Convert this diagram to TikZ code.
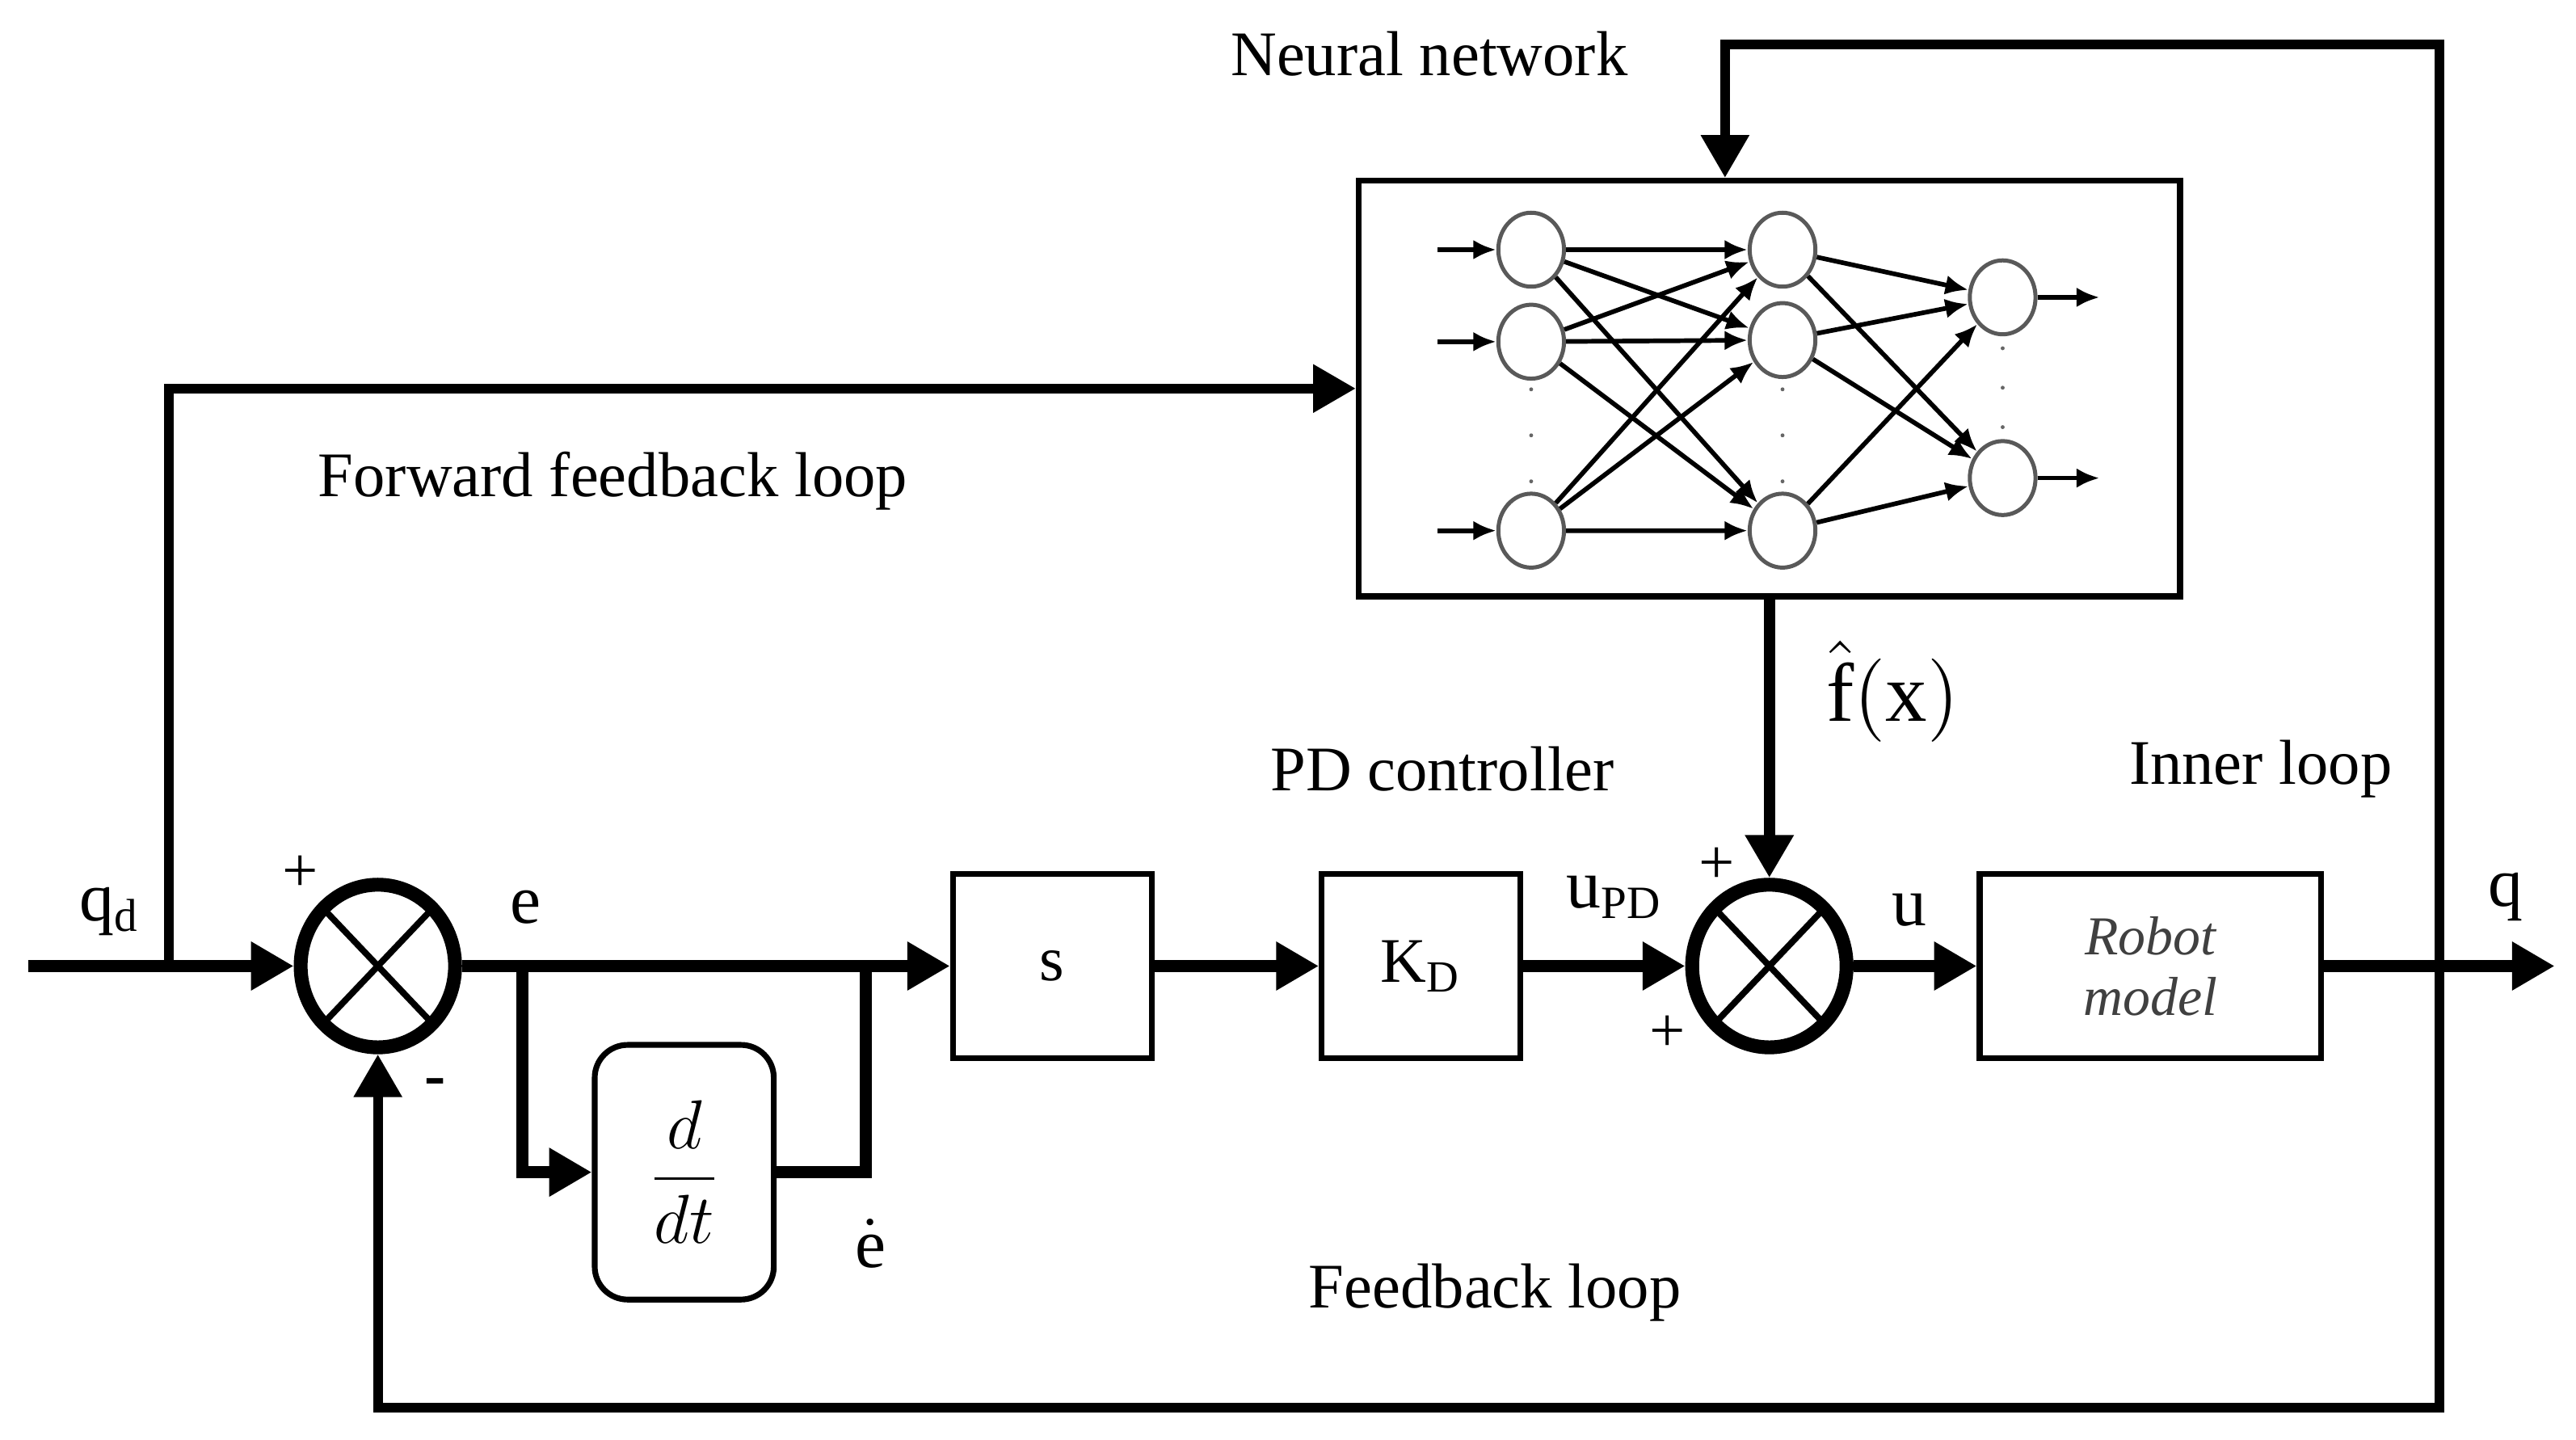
\documentclass[tikz,border=0pt]{standalone}
\usepackage{amsmath}
\usepackage{fontspec}
\setmainfont{Liberation Serif}
\usetikzlibrary{shapes.geometric, positioning, calc, arrows.meta}

\begin{document}
\begin{tikzpicture}[node distance=1cm, >={Triangle[length=0.26cm,width=0.28cm]}, font=\fontsize{11}{13}\selectfont]
        \tikzstyle{blk}=[draw, rectangle, line width=1pt, minimum width=1.21cm, minimum height=1.12cm];
        \tikzstyle{summ}=[draw, ellipse, line width=2.4pt, minimum width=0.94cm, minimum height=0.99cm, inner sep=0pt,
          path picture={\draw[line width=1.1pt] (path picture bounding box.north west) -- (path picture bounding box.south east)
            (path picture bounding box.south west) -- (path picture bounding box.north east);}];
        \tikzstyle{neuron}=[draw=black!65, ellipse, line width=0.7pt, minimum width=0.40cm, minimum height=0.45cm, inner sep=0pt];
        \tikzstyle{sig}=[line width=2pt];
        \tikzstyle{fbline}=[line width=1.7pt];
        \tikzstyle{syn}=[line width=0.8pt, -{Latex[length=1.4mm,width=1.2mm]}];
        \useasboundingbox (0,0) rectangle (15.68,8.76);

        % main blocks
        \node[summ] (sum1) at (2.30,2.88) {};
        \node[blk, right of=sum1, node distance=4.105cm] (s) {s};
        \node[blk, right of=s, node distance=2.245cm] (kd) {$\mathrm{K_D}$};
        \node[summ, right of=kd, node distance=2.12cm] (sum2) {};
        \node[blk, right of=sum2, node distance=2.32cm, minimum width=2.08cm, align=center,
          font=\fontsize{9.5}{10.5}\selectfont\itshape, text=black!75] (robot) {Robot\\model};
        \node[blk, rounded corners=0.2cm, minimum width=1.09cm, minimum height=1.55cm] (ddt) at (4.165,1.625) {\large$\displaystyle\frac{d}{dt}$};
        \node[draw, line width=1pt, minimum width=5cm, minimum height=2.53cm, above of=sum2, node distance=3.515cm] (nn) {};

        % neural network
        \node[neuron] (i1) at (9.32,7.24) {};
        \node[neuron, below of=i1, node distance=0.56cm] (i2) {};
        \node[neuron, below of=i2, node distance=1.15cm] (i3) {};
        \node[neuron, right of=i1, node distance=1.53cm] (h1) {};
        \node[neuron, below of=h1, node distance=0.55cm] (h2) {};
        \node[neuron, below of=h2, node distance=1.16cm] (h3) {};
        \node[neuron] (o1) at (12.19,6.95) {};
        \node[neuron, below of=o1, node distance=1.10cm] (o2) {};
        \coordinate[left of=i1, node distance=0.57cm] (x1);
        \coordinate[left of=i2, node distance=0.57cm] (x2);
        \coordinate[left of=i3, node distance=0.57cm] (x3);
        \coordinate[right of=o1, node distance=0.59cm] (y1);
        \coordinate[right of=o2, node distance=0.59cm] (y2);
        \fill[black!60] (9.32,6.39) circle (0.012) (9.32,6.11) circle (0.012) (9.32,5.83) circle (0.012)
          (10.85,6.39) circle (0.012) (10.85,6.11) circle (0.012) (10.85,5.83) circle (0.012)
          (12.19,6.64) circle (0.012) (12.19,6.40) circle (0.012) (12.19,6.16) circle (0.012);

        % labels
        \node (nnlbl) at (8.70,8.43) {Neural network};
        \node (fwlbl) at (3.73,5.83) {Forward feedback loop};
        \node (pdlbl) at (8.78,4.08) {PD controller};
        \node (inlbl) at (13.76,4.08) {Inner loop};
        \node (fblbl) at (9.10,0.89) {Feedback loop};
        \node (fxlbl) at (11.52,4.55) {\Large$\hat{\mathrm{f}}(\mathrm{x})$};
        \node (qdlbl) at (0.67,3.21) {\large$\mathrm{q_d}$};
        \node (elbl) at (3.20,3.24) {\large e};
        \node (edlbl) at (5.30,1.19) {\large$\dot{\mathrm{e}}$};
        \node (upd) at (9.83,3.30) {\large$\mathrm{u_{PD}}$};
        \node (ulbl) at (11.62,3.22) {\large u};
        \node (qlbl) at (15.25,3.30) {\large q};
        \node (p1) at (1.83,3.44) {+};
        \node (m1) at (2.65,2.14) {\textbf{-}};
        \node (p2) at (10.45,3.49) {+};
        \node (p3) at (10.15,2.47) {+};

        % junctions
        \coordinate (in) at (0.17,2.88);
        \coordinate (br) at (1.03,2.88);
        \coordinate (eb) at (3.18,2.88);
        \coordinate (ej) at (5.27,2.88);
        \coordinate (fb) at (14.85,2.88);
        \coordinate (out) at (15.55,2.88);
        \coordinate (fbtop) at (10.50,8.49);
        \coordinate (fbbot) at (2.30,0.19);

        \path[->, sig]
        (in) edge (sum1)
        (sum1) edge (s)
        (s) edge (kd)
        (kd) edge (sum2)
        (sum2) edge (robot)
        (robot) edge (out)
        (nn) edge (sum2);
        \draw[sig, ->] (eb) |- (ddt);
        \draw[sig] (ddt) -| (ej);
        \draw[fbline, ->] (br) |- (nn);
        \draw[fbline, ->] (fb) |- (fbtop) -- (fbtop |- nn.north);
        \draw[fbline, ->] (fb) |- (fbbot) -- (sum1);

        \path[syn]
        (x1) edge (i1)
        (x2) edge (i2)
        (x3) edge (i3)
        (i1) edge (h1) (i1) edge (h2) (i1) edge (h3)
        (i2) edge (h1) (i2) edge (h2) (i2) edge (h3)
        (i3) edge (h1) (i3) edge (h2) (i3) edge (h3)
        (h1) edge (o1) (h1) edge (o2)
        (h2) edge (o1) (h2) edge (o2)
        (h3) edge (o1) (h3) edge (o2)
        (o1) edge (y1)
        (o2) edge (y2);
      \end{tikzpicture}
\end{document}
